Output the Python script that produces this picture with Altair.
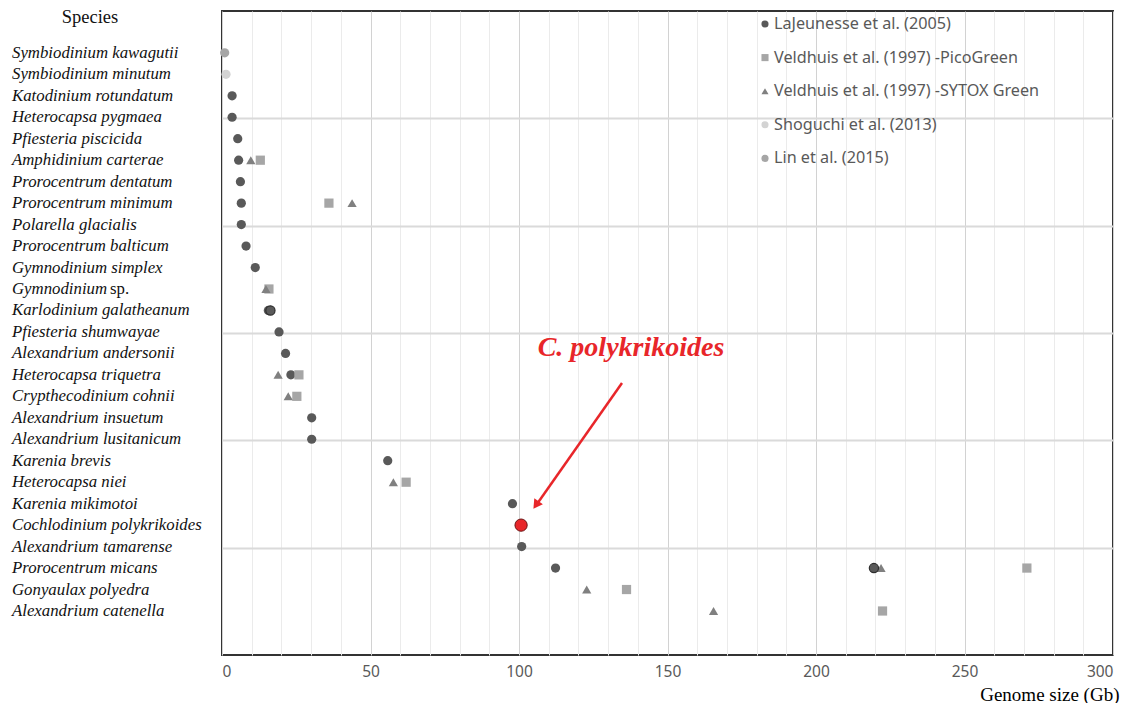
import altair as alt
import pandas as pd

SPECIES = [
    "Symbiodinium kawagutii", "Symbiodinium minutum", "Katodinium rotundatum",
    "Heterocapsa pygmaea", "Pfiesteria piscicida", "Amphidinium carterae",
    "Prorocentrum dentatum", "Prorocentrum minimum", "Polarella glacialis",
    "Prorocentrum balticum", "Gymnodinium simplex", "Gymnodinium",
    "Karlodinium galatheanum", "Pfiesteria shumwayae", "Alexandrium andersonii",
    "Heterocapsa triquetra", "Crypthecodinium cohnii", "Alexandrium insuetum",
    "Alexandrium lusitanicum", "Karenia brevis", "Heterocapsa niei",
    "Karenia mikimotoi", "Cochlodinium polykrikoides", "Alexandrium tamarense",
    "Prorocentrum micans", "Gonyaulax polyedra", "Alexandrium catenella",
]

N = None
LAJEUNESSE = [N, N, 3.4, 3.4, 5.3, 5.6, 6.2, 6.5, 6.5, 8.1, 11.2, N, 15.6, 19.2, 21.4,
              23.2, N, 30.2, 30.2, 55.8, N, 97.8, N, 100.9, 112.3, N, N]
LAJEUNESSE_EXTRA = [N, N, N, N, N, N, N, N, N, N, N, N, 16.3, N, N,
                    N, N, N, N, N, N, N, N, N, 219.5, N, N]
PICOGREEN = [N, N, N, N, N, 12.9, N, 36.0, N, N, N, 15.8, N, N, N,
             25.9, 25.2, N, N, N, 62.0, N, N, N, 271.0, 136.2, 222.4]
SYTOX = [N, N, N, N, N, 9.7, N, 43.8, N, N, N, 14.8, N, N, N,
         18.9, 22.3, N, N, N, 57.7, N, N, N, 221.9, 122.8, 165.5]
SHOGUCHI = [N, 1.35] + [N] * 25
LIN = [0.9] + [N] * 26
THIS_STUDY = [N] * 22 + [100.7] + [N] * 4

SERIES = ["LaJeunesse et al. (2005)", "Veldhuis et al. (1997) -PicoGreen",
          "Veldhuis et al. (1997) -SYTOX Green", "Shoguchi et al. (2013)", "Lin et al. (2015)"]
SHAPES = ["circle", "square", "triangle-up", "circle", "circle"]
COLORS = ["#595959", "#a6a6a6", "#808080", "#d3d3d3", "#a6a6a6"]
SIZES = [85, 85, 75, 75, 75]

ROW_OFFSET = 1.95

rows = []
for name, vals in zip(SERIES, [LAJEUNESSE, PICOGREEN, SYTOX, SHOGUCHI, LIN]):
    for i, v in enumerate(vals):
        if v is not None:
            rows.append({"series": name, "species": SPECIES[i], "row": i + ROW_OFFSET, "gb": v})
df = pd.DataFrame(rows)

extra = pd.DataFrame([{"species": SPECIES[i], "row": i + ROW_OFFSET, "gb": v}
                      for i, v in enumerate(LAJEUNESSE_EXTRA) if v is not None])
study = pd.DataFrame([{"species": SPECIES[i], "row": i + ROW_OFFSET, "gb": v}
                      for i, v in enumerate(THIS_STUDY) if v is not None])
labels = pd.DataFrame({"species": SPECIES, "row": [i + ROW_OFFSET for i in range(len(SPECIES))]})
legend_df = pd.DataFrame({"series": SERIES, "idx": list(range(len(SERIES)))})

xscale = alt.Scale(domain=[0, 300], nice=False, zero=False)
yscale = alt.Scale(domain=[0, 30], reverse=True, nice=False)
shape_scale = alt.Scale(domain=SERIES, range=SHAPES)
color_scale = alt.Scale(domain=SERIES, range=COLORS)

x_axis = alt.Axis(
    values=list(range(0, 301, 10)),
    labelExpr="datum.value % 50 === 0 ? datum.label : ''",
    labelOverlap=False,
    grid=True,
    gridColor={"condition": {"test": "datum.value % 50 === 0", "value": "#d2d2d2"}, "value": "#ebebeb"},
    gridWidth=1,
    ticks=False, domain=False,
    labelFont="Noto Sans", labelFontSize=15.5, labelColor="#595959", labelPadding=9,
    title="Genome size (Gb)", titleFont="Liberation Serif", titleFontSize=19,
    titleFontWeight="normal", titleColor="#000000",
    titleAnchor="end", titleAlign="right", titleX=897, titleY=45, titleBaseline="alphabetic",
)
y_axis = alt.Axis(values=[5, 10, 15, 20, 25], grid=True, gridColor="#dadada", gridWidth=2,
                  labels=False, ticks=False, domain=False, title=None)


def X():
    return alt.X("gb:Q", scale=xscale, axis=x_axis, title="Genome size (Gb)")


def Y():
    return alt.Y("row:Q", scale=yscale, axis=y_axis, title=None)


points = alt.Chart(df).mark_point(filled=True, opacity=1, strokeWidth=0).encode(
    x=X(), y=Y(),
    shape=alt.Shape("series:N", scale=shape_scale, legend=None),
    color=alt.Color("series:N", scale=color_scale, legend=None),
    size=alt.Size("series:N", scale=alt.Scale(domain=SERIES, range=SIZES), legend=None),
)

legend_sym = alt.Chart(legend_df).transform_calculate(
    ly="13 + datum.idx * 33.6").mark_point(filled=True, opacity=1, strokeWidth=0, size=50).encode(
    x=alt.value(543), y=alt.Y("ly:Q", scale=None),
    shape=alt.Shape("series:N", scale=shape_scale, legend=None),
    color=alt.Color("series:N", scale=color_scale, legend=None),
)
legend_txt = alt.Chart(legend_df).transform_calculate(
    ly="13 + datum.idx * 33.6").mark_text(
    align="left", baseline="middle", font="Noto Sans", fontSize=16.2, color="#595959").encode(
    x=alt.value(552), y=alt.Y("ly:Q", scale=None), text="series:N")

extra_pts = alt.Chart(extra).mark_point(filled=True, opacity=1, size=85, color="#5a5a5a",
                                         stroke="#2e2e2e", strokeWidth=1.2).encode(x=X(), y=Y())

study_pt = alt.Chart(study).mark_point(filled=True, opacity=1, size=150, fill="#e8262a",
                                        stroke="#6b1515", strokeWidth=1).encode(x=X(), y=Y())

species_text = alt.Chart(labels).mark_text(
    align="left", baseline="middle", font="Liberation Serif", fontStyle="italic",
    fontSize=16.8, color="#111111").encode(
    x=alt.value(-210), y=Y(), text="species:N")

sp_text = alt.Chart(labels[labels["species"] == "Gymnodinium"]).mark_text(
    align="left", baseline="middle", font="Liberation Serif", fontSize=16.8, color="#111111",
    dx=98).encode(x=alt.value(-210), y=Y(), text=alt.value("sp."))

header = alt.Chart(labels.head(1)).mark_text(
    align="center", baseline="middle", font="Liberation Serif", fontSize=18.5, color="#111111").encode(
    x=alt.value(-132), y=alt.value(6), text=alt.value("Species"))

annot = alt.Chart(labels.head(1)).mark_text(
    align="center", baseline="middle", font="Liberation Serif", fontStyle="italic",
    fontWeight="bold", fontSize=28, color="#e8262a").encode(
    x=alt.value(409), y=alt.value(337), text=alt.value("C. polykrikoides"))

arrow_line = alt.Chart(labels.head(1)).mark_rule(color="#e8262a", strokeWidth=2.5).encode(
    x=alt.value(400), y=alt.value(372), x2=alt.value(315), y2=alt.value(493))

arrow_head = alt.Chart(labels.head(1)).mark_point(
    shape="triangle-up", filled=True, opacity=1, color="#e8262a", size=110, angle=215).encode(
    x=alt.value(314), y=alt.value(494))

chart = alt.layer(points, extra_pts, study_pt, legend_sym, legend_txt, species_text, sp_text,
                  header, annot, arrow_line, arrow_head).properties(
    width=891, height=644,
    autosize=alt.AutoSizeParams(type="none"),
    padding={"left": 214, "top": 3, "right": 11, "bottom": 48},
).configure_view(stroke="#333333", strokeWidth=2)

chart.save("out.html", embed_options={"renderer": "svg", "actions": False})
